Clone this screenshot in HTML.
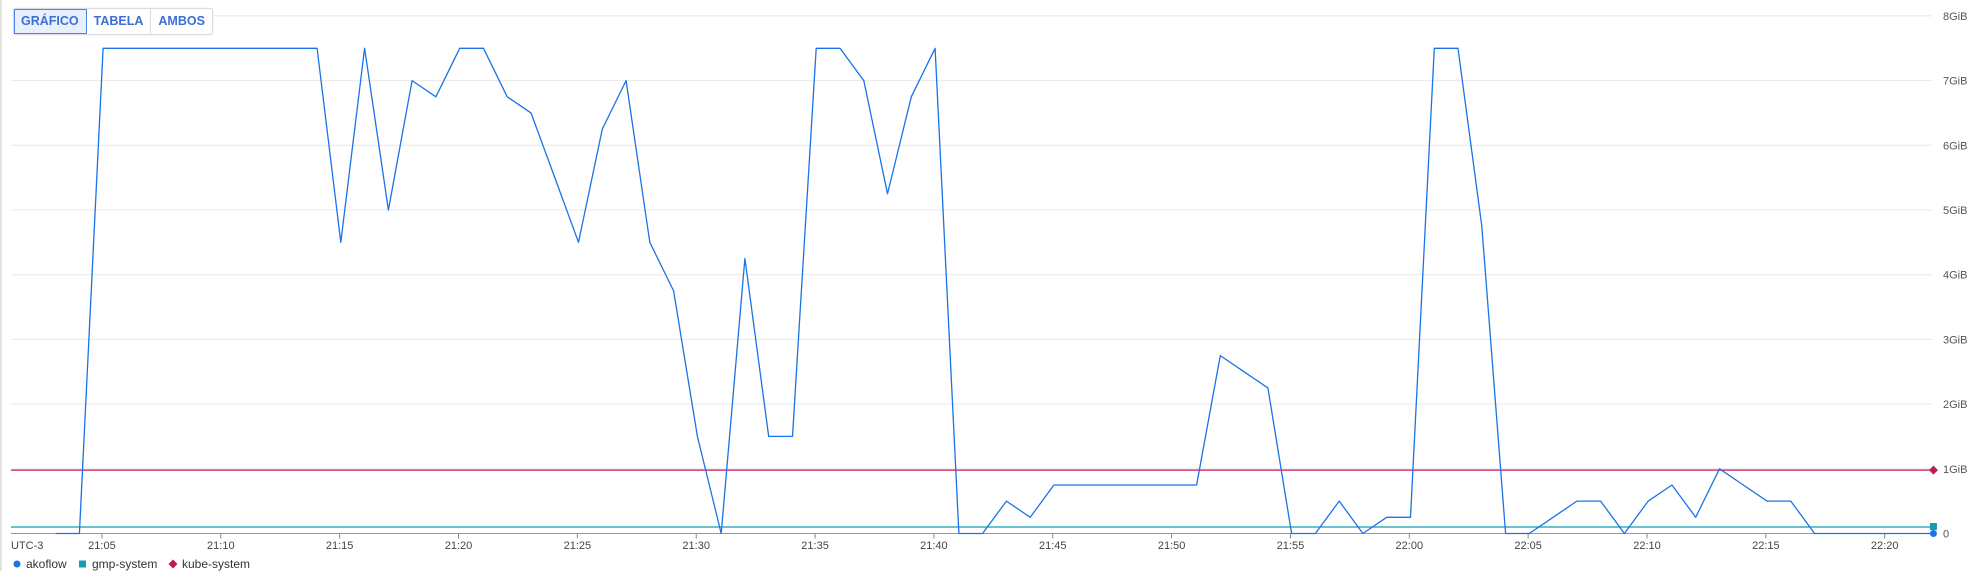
<!DOCTYPE html>
<html><head><meta charset="utf-8">
<style>
html,body{margin:0;padding:0;background:#fff;width:1984px;height:571px;overflow:hidden;font-family:"Liberation Sans",sans-serif}
#left-border{position:absolute;left:0;top:0;width:2px;height:571px;background:#e3e3e3}
#btns{position:absolute;left:13px;top:8px;height:25px;display:flex;border:1px solid #dadce0;border-radius:3px;background:#fff;box-shadow:0 0 1px #ccc}
.b{font-size:12.5px;font-weight:bold;color:#3b6fd4;padding:0 7px;line-height:25px;border-right:1px solid #dadce0}
.b:last-child{border-right:none}
.sel{background:#e8f0fe;outline:1px solid #4a86e8;outline-offset:-1px}
svg{position:absolute;left:0;top:0}
</style></head><body>
<div id="left-border"></div>
<svg id="chart" width="1984" height="571"></svg>
<div id="btns">
<div class="b sel">GRÁFICO</div>
<div class="b">TABELA</div>
<div class="b">AMBOS</div>
</div>
<script>
const yTicks=[0,1,2,3,4,5,6,7,8];
const yTickLabels=["0","1GiB","2GiB","3GiB","4GiB","5GiB","6GiB","7GiB","8GiB"];
const xTicks=[5,10,15,20,25,30,35,40,45,50,55,60,65,70,75,80];
const xTickLabels=["21:05","21:10","21:15","21:20","21:25","21:30","21:35","21:40","21:45","21:50","21:55","22:00","22:05","22:10","22:15","22:20"];
const akoflowStart=3.05;
const akoflow=[0,0,7.5,7.5,7.5,7.5,7.5,7.5,7.5,7.5,7.5,7.5,4.5,7.5,5.0,7.0,6.75,7.5,7.5,6.75,6.5,5.5,4.5,6.25,7.0,4.5,3.75,1.5,0,4.25,1.5,1.5,7.5,7.5,7.0,5.25,6.75,7.5,0,0,0.5,0.25,0.75,0.75,0.75,0.75,0.75,0.75,0.75,2.75,2.5,2.25,0,0,0.5,0,0.25,0.25,7.5,7.5,4.75,0,0,0.25,0.5,0.5,0,0.5,0.75,0.25,1.0,0.75,0.5,0.5,0,0,0,0,0,0];
const gmpSystem=0.1;
const kubeSystem=0.98;
const NS="http://www.w3.org/2000/svg";
const svg=document.getElementById('chart');
const L=11,R=1932,Y0=533.5,PERG=64.7;
const x=t=>-16.9+23.77*t;
const y=v=>Y0-v*PERG;
function mk(tag,attrs){const e=document.createElementNS(NS,tag);for(const k in attrs)e.setAttribute(k,attrs[k]);svg.appendChild(e);return e;}
yTicks.forEach((v,i)=>{
 if(v>0){const g=mk('line',{x1:L,x2:R,y1:y(v),y2:y(v),stroke:'#e8e8e8','stroke-width':1});
 
 }
 const t=mk('text',{x:1943,y:y(v)+4,'font-size':11,fill:'#555'});t.textContent=yTickLabels[i];
 
 
});
const ax=mk('line',{x1:L,x2:R,y1:Y0,y2:Y0,stroke:'#999','stroke-width':1});


xTicks.forEach((t,i)=>{
 const tk=mk('line',{x1:x(t),x2:x(t),y1:Y0,y2:Y0+5,stroke:'#888'});
 
 
 const lb=mk('text',{x:x(t),y:549,'font-size':11,fill:'#444','text-anchor':'middle'});lb.textContent=xTickLabels[i];
 
 
});
const tz=mk('text',{x:11,y:549,'font-size':11,fill:'#444'});tz.textContent='UTC-3';


const kl=mk('line',{x1:L,x2:1935,y1:y(kubeSystem),y2:y(kubeSystem),stroke:'#c2185b','stroke-width':1.2});


const gl=mk('line',{x1:L,x2:1935,y1:y(gmpSystem),y2:y(gmpSystem),stroke:'#129eaf','stroke-width':1.2});


const pts=akoflow.map((v,i)=>x(akoflowStart+i).toFixed(1)+','+y(v).toFixed(1)).join(' ');
const al=mk('polyline',{points:pts,fill:'none',stroke:'#1a73e8','stroke-width':1.3,'stroke-linejoin':'round'});


const lx=x(akoflowStart+akoflow.length-1);
const m1=mk('rect',{x:lx-3.5,y:y(gmpSystem)-4,width:7,height:7,fill:'#129eaf'});


const m2=mk('circle',{cx:lx,cy:y(akoflow[akoflow.length-1]),r:3.5,fill:'#1a73e8'});


const ky=y(kubeSystem);
const m3=mk('polygon',{points:`${lx},${ky-4.5} ${lx+4.5},${ky} ${lx},${ky+4.5} ${lx-4.5},${ky}`,fill:'#c2185b'});


// legend
const lc=mk('circle',{cx:17,cy:564,r:3.5,fill:'#1a73e8'});


const lt1=mk('text',{x:26,y:568,'font-size':12,fill:'#333'});lt1.textContent='akoflow';


const ls=mk('rect',{x:79,y:560.5,width:7,height:7,fill:'#129eaf'});


const lt2=mk('text',{x:92,y:568,'font-size':12,fill:'#333'});lt2.textContent='gmp-system';


const ld=mk('polygon',{points:'173,559.5 177.5,564 173,568.5 168.5,564',fill:'#c2185b'});


const lt3=mk('text',{x:182,y:568,'font-size':12,fill:'#333'});lt3.textContent='kube-system';


</script>
</body></html>
